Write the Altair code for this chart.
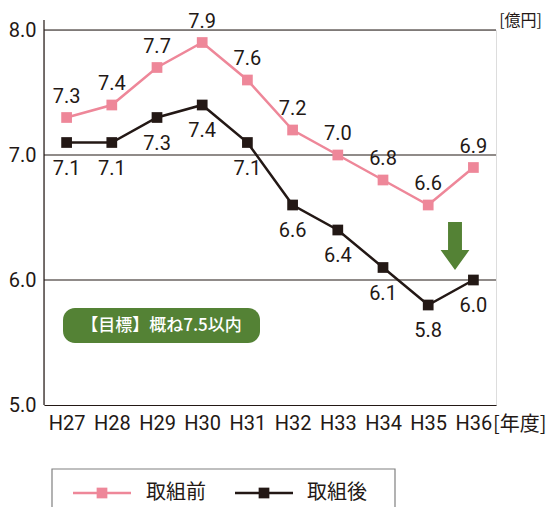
import altair as alt
import pandas as pd

years = ["H27", "H28", "H29", "H30", "H31", "H32", "H33", "H34", "H35", "H36"]
before = [7.3, 7.4, 7.7, 7.9, 7.6, 7.2, 7.0, 6.8, 6.6, 6.9]
after = [7.1, 7.1, 7.3, 7.4, 7.1, 6.6, 6.4, 6.1, 5.8, 6.0]
series_names = ["取組前", "取組後"]
y_ticks = [5.0, 6.0, 7.0, 8.0]
grid_values = [6.0, 7.0, 8.0]
target_text = "【目標】概ね7.5以内"
x_unit = "[年度]"
y_unit = "[億円]"

PINK = "#EE8799"
BLACK = "#231815"
GREEN = "#548235"
FONT = "Roboto, Noto Sans CJK JP"
JFONT = "Noto Sans CJK JP"

df = pd.DataFrame({
    "year": years * 2,
    "value": before + after,
    "series": [series_names[0]] * len(years) + [series_names[1]] * len(years),
})
one = pd.DataFrame({"k": [0]})

xenc = alt.X("year:N", sort=years,
             scale=alt.Scale(type="point", padding=0.5),
             axis=alt.Axis(title=None, labelAngle=0, ticks=False, domain=True,
                           domainColor=BLACK, domainWidth=1.2, grid=False,
                           labelFont=FONT, labelFontSize=20, labelColor=BLACK,
                           labelPadding=8))
yenc = alt.Y("value:Q", scale=alt.Scale(domain=[5, 8], nice=False, zero=False),
             axis=alt.Axis(title=None, values=y_ticks, format=".1f", ticks=False,
                           domain=False, grid=False,
                           labelFont=FONT, labelFontSize=20, labelColor=BLACK,
                           labelPadding=8))

color = alt.Color("series:N", scale=alt.Scale(domain=series_names, range=[PINK, BLACK]),
                  legend=None)

base = alt.Chart(df)

grid = alt.Chart(pd.DataFrame({"g": grid_values})).mark_rule(
    color=BLACK, strokeWidth=1.2).encode(
    y=alt.Y("g:Q", scale=alt.Scale(domain=[5, 8], nice=False, zero=False)),
    x=alt.value(0), x2=alt.value(452))

yaxis_line = alt.Chart(one).mark_rule(color=BLACK, strokeWidth=1.2).encode(
    x=alt.value(0), y=alt.value(-10), y2=alt.value(375))

lines = base.mark_line(strokeWidth=2.5).encode(x=xenc, y=yenc, color=color,
                                               detail="series:N")
points = base.mark_point(shape="square", filled=True, opacity=1, size=115).encode(
    x=xenc, y=yenc, color=color)

lab_before = base.transform_filter(alt.datum.series == series_names[0]).mark_text(
    font=FONT, fontSize=20, color=BLACK, baseline="middle", dy=-21).encode(
    x=xenc, y=yenc, text=alt.Text("value:Q", format=".1f"))
lab_after = base.transform_filter(alt.datum.series == series_names[1]).mark_text(
    font=FONT, fontSize=20, color=BLACK, baseline="middle", dy=26).encode(
    x=xenc, y=yenc, text=alt.Text("value:Q", format=".1f"))

# target badge
badge = alt.Chart(one).mark_rect(color=GREEN, cornerRadius=12).encode(
    x=alt.value(19), x2=alt.value(216), y=alt.value(278), y2=alt.value(313))
badge_text = alt.Chart(one).mark_text(
    font=JFONT, fontSize=17, fontWeight=500, color="white", align="center",
    baseline="middle", text=target_text).encode(x=alt.value(117.5), y=alt.value(296))

arrow_path = "M-0.29,-1 L0.29,-1 L0.29,0.17 L0.6,0.17 L0,1 L-0.6,0.17 L-0.29,0.17 Z"
arrow = alt.Chart(one).mark_point(shape=arrow_path, filled=True, color=GREEN,
                                  opacity=1, size=2304, strokeWidth=0).encode(
    x=alt.value(411), y=alt.value(216))

xunit = alt.Chart(one).mark_text(font=JFONT, fontSize=20, color=BLACK, align="left",
                                 baseline="middle", text=x_unit).encode(
    x=alt.value(449), y=alt.value(395))
yunit = alt.Chart(one).mark_text(font=JFONT, fontSize=16, color=BLACK, align="right",
                                 baseline="middle", text=y_unit).encode(
    x=alt.value(498), y=alt.value(-9))

# legend
leg_box = alt.Chart(one).mark_rect(fill=None, stroke="#808080", strokeWidth=1.2).encode(
    x=alt.value(8), x2=alt.value(351), y=alt.value(439), y2=alt.value(520))
leg_l1 = alt.Chart(one).mark_rule(color=PINK, strokeWidth=2.5).encode(
    x=alt.value(29), x2=alt.value(87), y=alt.value(463))
leg_p1 = alt.Chart(one).mark_point(shape="square", filled=True, color=PINK, opacity=1,
                                   size=115).encode(x=alt.value(58), y=alt.value(463))
leg_t1 = alt.Chart(one).mark_text(font=JFONT, fontSize=20, color=BLACK, align="left",
                                  baseline="middle", text=series_names[0]).encode(
    x=alt.value(102), y=alt.value(463))
leg_l2 = alt.Chart(one).mark_rule(color=BLACK, strokeWidth=2.5).encode(
    x=alt.value(191), x2=alt.value(249), y=alt.value(463))
leg_p2 = alt.Chart(one).mark_point(shape="square", filled=True, color=BLACK, opacity=1,
                                   size=115).encode(x=alt.value(220), y=alt.value(463))
leg_t2 = alt.Chart(one).mark_text(font=JFONT, fontSize=20, color=BLACK, align="left",
                                  baseline="middle", text=series_names[1]).encode(
    x=alt.value(263), y=alt.value(463))

chart = alt.layer(
    grid, yaxis_line, lines, points, lab_before, lab_after,
    badge, badge_text, arrow, xunit, yunit,
    leg_box, leg_l1, leg_p1, leg_t1, leg_l2, leg_p2, leg_t2,
).properties(
    width=452, height=375,
    autosize=alt.AutoSizeParams(type="none"),
    padding={"left": 36, "top": 22, "right": 54, "bottom": 102},
).configure_view(stroke=None).configure(background="white")

chart.save("out.html", embed_options={"renderer": "svg", "actions": False})
